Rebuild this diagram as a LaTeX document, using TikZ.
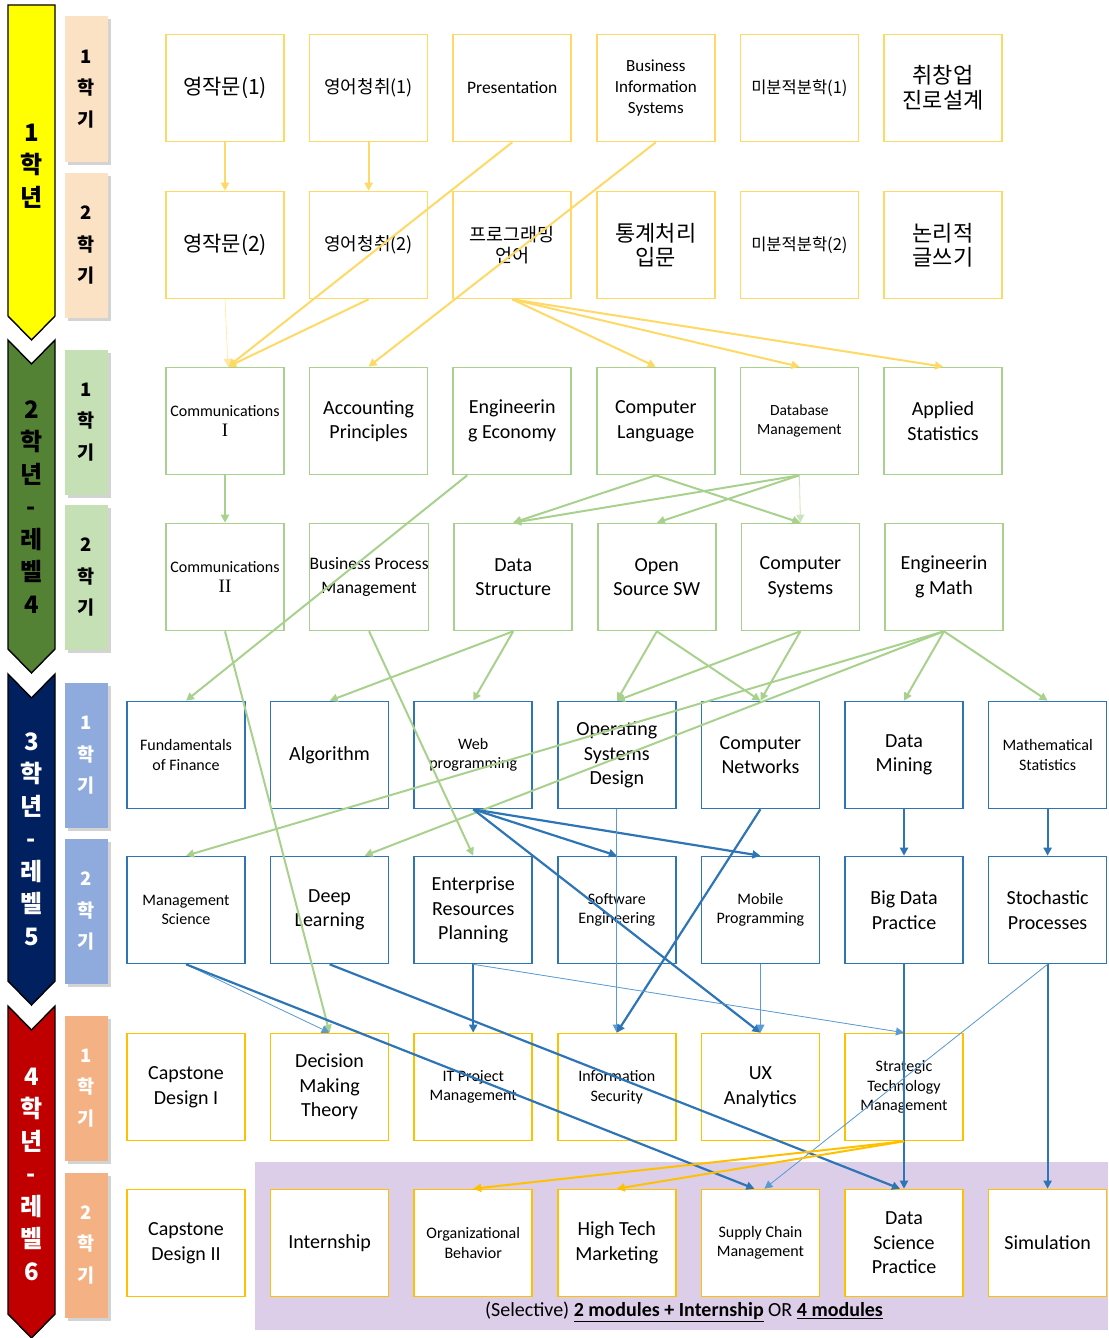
\documentclass[tikz,border=0pt]{standalone}
\usepackage{fontspec}
\setmainfont{Carlito}
\newfontfamily\kr{Noto Sans CJK KR}
\newfontfamily\romannum{Liberation Serif}
\usepackage{tikz}
\usetikzlibrary{positioning,arrows.meta,shadows}
\definecolor{yrline}{RGB}{255,217,102}
\definecolor{grline}{RGB}{169,209,142}
\definecolor{blline}{RGB}{46,117,182}
\definecolor{bllight}{RGB}{91,155,213}
\definecolor{orline}{RGB}{255,192,0}
\definecolor{selbg}{RGB}{220,206,232}
\definecolor{yearone}{RGB}{255,255,0}
\definecolor{yeartwo}{RGB}{84,130,53}
\definecolor{yearthree}{RGB}{0,32,96}
\definecolor{yearfour}{RGB}{192,0,0}
\definecolor{tabone}{RGB}{251,226,196}
\definecolor{tabtwo}{RGB}{197,224,180}
\definecolor{tabthree}{RGB}{143,170,220}
\definecolor{tabfour}{RGB}{244,177,131}

\begin{document}
\begin{tikzpicture}[
        x=1pt, y=-1pt,
        node distance=24pt,
        course/.style={rectangle, draw, line width=1.6pt, fill=white, minimum width=118pt, minimum height=107pt, inner sep=0pt, align=center},
        ybox/.style={course, draw=yrline},
        gbox/.style={course, draw=grline},
        bbox/.style={course, draw=blline},
        obox/.style={course, draw=orline},
        bigtext/.style={font=\fontsize{20}{24.5}\selectfont},
        smalltext/.style={font=\fontsize{16}{19.5}\selectfont},
        tab/.style={rectangle, minimum width=43pt, minimum height=145pt, inner sep=0pt, align=center, font=\kr\bfseries\fontsize{18.5}{31.5}\selectfont, drop shadow={shadow xshift=3pt, shadow yshift=-3pt, opacity=0.35}},
        yeartext/.style={align=center, font=\kr\bfseries\fontsize{24}{32.5}\selectfont},
        banner/.style={draw=black, line width=1.4pt, line join=miter},
        tip/.style={-{Triangle[length=8pt,width=8pt]}},
        yarrow/.style={tip, draw=yrline, fill=yrline, line width=2pt},
        yfaint/.style={tip, draw=yrline!60, fill=yrline!60, line width=0.6pt},
        garrow/.style={tip, draw=grline, fill=grline, line width=2pt},
        gfaint/.style={tip, draw=grline!60, fill=grline!60, line width=0.8pt},
        barrow/.style={tip, draw=blline, fill=blline, line width=2.2pt},
        bthin/.style={tip, draw=bllight, fill=bllight, line width=0.8pt},
        oarrow/.style={tip, draw=orline, fill=orline, line width=2pt}
    ]
        \useasboundingbox (0,0) rectangle (1108,1338);

        % year banners
        \draw[banner, fill=yearone] (8,5) -- (55,5) -- (55,316) -- (31.5,340) -- (8,316) -- cycle;
        \draw[banner, fill=yeartwo] (8,340) -- (31.5,364) -- (55,340) -- (55,649) -- (31.5,673) -- (8,649) -- cycle;
        \draw[banner, fill=yearthree] (8,674) -- (31.5,698) -- (55,674) -- (55,981) -- (31.5,1005) -- (8,981) -- cycle;
        \draw[banner, fill=yearfour] (8,1006) -- (31.5,1030) -- (55,1006) -- (55,1314) -- (31.5,1338) -- (8,1314) -- cycle;
        \node[yeartext] (yr1) at (31.5,166) {1\\학\\년};
        \node[yeartext] (yr2) at (31.5,507) {2\\학\\년\\-\\레\\벨\\4};
        \node[yeartext, text=white] (yr3) at (31.5,839) {3\\학\\년\\-\\레\\벨\\5};
        \node[yeartext, text=white] (yr4) at (31.5,1174) {4\\학\\년\\-\\레\\벨\\6};

        \node[tab, fill=tabone] (s11) at (86,89) {1\\학\\기};
        \node[tab, fill=tabone] (s12) at (86,245.5) {2\\학\\기};
        \node[tab, fill=tabtwo] (s21) at (86,422) {1\\학\\기};
        \node[tab, fill=tabtwo] (s22) at (86,577.5) {2\\학\\기};
        \node[tab, fill=tabthree, text=white] (s31) at (86,755.5) {1\\학\\기};
        \node[tab, fill=tabthree, text=white] (s32) at (86,911.5) {2\\학\\기};
        \node[tab, fill=tabfour, text=white] (s41) at (86,1088) {1\\학\\기};
        \node[tab, fill=tabfour, text=white] (s42) at (86,1245) {2\\학\\기};

        \fill[selbg] (255,1162) rectangle (1108,1330);
        \node (selnote) at (684,1312) {\fontsize{20}{22}\selectfont (Selective) \underline{\textbf{2 modules + Internship}} OR \underline{\textbf{4 modules}}};

        % year 1
        \node[ybox, font=\kr\fontsize{21}{24}\selectfont] (ej1) at (225,88) {영작문(1)};
        \node[ybox, right=of ej1, font=\kr\fontsize{18}{21}\selectfont] (el1) {영어청취(1)};
        \node[ybox, right=of el1, font=\fontsize{17.5}{21}\selectfont] (pres) {Presentation};
        \node[ybox, right=of pres, font=\fontsize{17}{21}\selectfont] (bis) {Business\\Information\\Systems};
        \node[ybox, right=of bis, font=\kr\fontsize{16.5}{19}\selectfont] (calc1) {미분적분학(1)};
        \node[ybox, right=of calc1, font=\kr\fontsize{22}{25}\selectfont] (career) {취창업\\진로설계};

        \node[ybox, font=\kr\fontsize{21}{24}\selectfont] (ej2) at (225,245) {영작문(2)};
        \node[ybox, right=of ej2, font=\kr\fontsize{18}{21}\selectfont] (el2) {영어청취(2)};
        \node[ybox, right=of el2, font=\kr\fontsize{18.5}{21}\selectfont] (prog) {프로그래밍\\언어};
        \node[ybox, right=of prog, font=\kr\fontsize{22}{24}\selectfont] (stat) {통계처리\\입문};
        \node[ybox, right=of stat, font=\kr\fontsize{16.5}{19}\selectfont] (calc2) {미분적분학(2)};
        \node[ybox, right=of calc2, font=\kr\fontsize{22}{24}\selectfont] (logic) {논리적\\글쓰기};

        % year 2
        \node[gbox, smalltext] (comm1) at (225,421) {Communications\\{\fontsize{19}{21}\selectfont\romannum I}};
        \node[gbox, bigtext, right=of comm1] (acct) {Accounting\\Principles};
        \node[gbox, bigtext, right=of acct] (engecon) {Engineerin\\g Economy};
        \node[gbox, bigtext, right=of engecon] (complang) {Computer\\Language};
        \node[gbox, right=of complang, font=\fontsize{15.5}{19}\selectfont] (dbm) {Database\\Management};
        \node[gbox, bigtext, right=of dbm] (appstat) {Applied\\Statistics};

        \node[gbox, smalltext] (comm2) at (225,577) {Communications\\{\fontsize{19}{21}\selectfont\romannum II}};
        \node[gbox, right=of comm2, font=\fontsize{17.5}{24.5}\selectfont] (bpm) {Business Process\\Management};
        \node[gbox, bigtext, right=of bpm] (dstruct) {Data\\Structure};
        \node[gbox, bigtext, right=of dstruct] (oss) {Open\\Source SW};
        \node[gbox, bigtext, right=of oss] (compsys) {Computer\\Systems};
        \node[gbox, bigtext, right=of compsys] (engmath) {Engineerin\\g Math};

        % year 3
        \node[bbox, smalltext] (fin) at (186,755) {Fundamentals\\of Finance};
        \node[bbox, bigtext, right=of fin] (algo) {Algorithm};
        \node[bbox, smalltext, right=of algo] (web) {Web\\programming};
        \node[bbox, bigtext, right=of web] (osd) {Operating\\Systems\\Design};
        \node[bbox, bigtext, right=of osd] (cnet) {Computer\\Networks};
        \node[bbox, bigtext, right=of cnet] (dmine) {Data\\Mining};
        \node[bbox, smalltext, right=of dmine] (mstat) {Mathematical\\Statistics};

        \node[bbox, smalltext] (msci) at (186,910) {Management\\Science};
        \node[bbox, bigtext, right=of msci] (dlearn) {Deep\\Learning};
        \node[bbox, bigtext, right=of dlearn] (erp) {Enterprise\\Resources\\Planning};
        \node[bbox, smalltext, right=of erp] (swe) {Software\\Engineering};
        \node[bbox, smalltext, right=of swe] (mobile) {Mobile\\Programming};
        \node[bbox, bigtext, right=of mobile] (bigdata) {Big Data\\Practice};
        \node[bbox, bigtext, right=of bigdata] (stoch) {Stochastic\\Processes};

        % year 4
        \node[obox, bigtext] (cap1) at (186,1087) {Capstone\\Design I};
        \node[obox, bigtext, right=of cap1] (dmt) {Decision\\Making\\Theory};
        \node[obox, smalltext, right=of dmt] (itpm) {IT Project\\Management};
        \node[obox, smalltext, right=of itpm] (infosec) {Information\\Security};
        \node[obox, bigtext, right=of infosec] (ux) {UX\\Analytics};
        \node[obox, smalltext, right=of ux] (stm) {Strategic\\Technology\\Management};

        \node[obox, bigtext] (cap2) at (186,1243) {Capstone\\Design II};
        \node[obox, bigtext, right=of cap2] (intern) {Internship};
        \node[obox, smalltext, right=of intern] (orgb) {Organizational\\Behavior};
        \node[obox, bigtext, right=of orgb] (htm) {High Tech\\Marketing};
        \node[obox, smalltext, right=of htm] (scm) {Supply Chain\\Management};
        \node[obox, bigtext, right=of scm] (dsp) {Data\\Science\\Practice};
        \node[obox, bigtext, right=of dsp] (sim) {Simulation};

        % prerequisites
        \draw[yarrow] (ej1) -- (ej2);
        \draw[yarrow] (el1) -- (el2);
        \draw[yarrow] (pres.south) -- ([xshift=3pt]comm1.north);
        \draw[yarrow] (bis.south) -- (acct.north);
        \draw[yfaint] (ej2.south) -- ([xshift=3pt]comm1.north);
        \draw[yarrow] (el2.south) -- ([xshift=3pt]comm1.north);
        \foreach \dst in {complang,dbm,appstat}
            \draw[yarrow] (prog.south) -- (\dst.north);

        \draw[garrow] (comm1) -- (comm2);
        \draw[garrow] ([xshift=-45pt]engecon.south) -- (fin.north);
        \draw[garrow] (complang.south) -- (dstruct.north);
        \draw[garrow] (complang.south) -- (compsys.north);
        \draw[garrow] (dbm.south) -- (dstruct.north);
        \draw[garrow] (dbm.south) -- (oss.north);
        \draw[gfaint] (dbm.south) -- (compsys.north);
        \draw[garrow] (comm2.south) -- (dmt.north);
        \draw[garrow] (bpm.south) -- (erp.north);
        \draw[garrow] (dstruct.south) -- (algo.north);
        \draw[garrow] (dstruct.south) -- (web.north);
        \foreach \src in {oss,compsys} {
            \draw[garrow] (\src.south) -- (osd.north);
            \draw[garrow] (\src.south) -- (cnet.north);
        }
        \draw[garrow] (engmath.south) -- (dmine.north);
        \draw[garrow] (engmath.south) -- (mstat.north);
        \draw[garrow] (engmath.south) -- (msci.north);
        \draw[garrow] (engmath.south) -- ([xshift=35pt]dlearn.north);

        \draw[barrow] (web.south) -- (swe.north);
        \draw[barrow] (web.south) -- (mobile.north);
        \draw[barrow] (web.south) -- (ux.north);
        \draw[bthin] (osd.south) -- (infosec.north);
        \draw[barrow] (cnet.south) -- (infosec.north);
        \draw[barrow] (dmine) -- (bigdata);
        \draw[barrow] (mstat) -- (stoch);
        \draw[bthin] (msci.south) -- (dmt.north);
        \draw[barrow] (msci.south) -- ([xshift=-6pt]scm.north);
        \draw[barrow] (dlearn.south) -- ([xshift=-4pt]dsp.north);
        \draw[barrow] (erp.south) -- (itpm.north);
        \draw[bthin] (erp.south) -- (stm.north);
        \draw[bthin] (mobile.south) -- (ux.north);
        \draw[barrow] (bigdata.south) -- (dsp.north);
        \draw[barrow] (stoch.south) -- (sim.north);
        \draw[bthin] (stoch.south) -- ([xshift=4pt]scm.north);

        \draw[oarrow] (stm.south) -- (orgb.north);
        \draw[oarrow] (stm.south) -- (htm.north);
    \end{tikzpicture}
\end{document}
